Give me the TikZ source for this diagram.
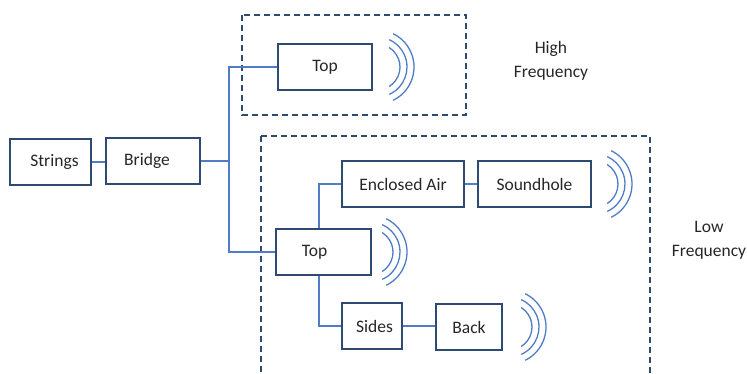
\documentclass[tikz,border=0pt]{standalone}
\usepackage{fontspec}
\setmainfont{Carlito}
\usetikzlibrary{calc}
\definecolor{boxc}{HTML}{2F4A72}
\definecolor{linec}{HTML}{4F7CC4}
\definecolor{dashc}{HTML}{2E4A6E}
\definecolor{txtc}{HTML}{262626}
\tikzset{
  blk/.style={draw=boxc, line width=1.3pt, minimum height=46pt, inner sep=0pt, text=txtc, font=\fontsize{17.5}{21}\selectfont},
  conn/.style={draw=linec, line width=1.3pt},
  grp/.style={draw=dashc, line width=1.3pt, dash pattern=on 6pt off 4pt},
  wavec/.style={draw=linec, line width=1.3pt},
  lbl/.style={text=txtc, align=center, font=\fontsize{17.5}{24}\selectfont}
}
\begin{document}
\begin{tikzpicture}[x=1pt,y=-1pt]
\useasboundingbox (0,0) rectangle (747,373);
\clip (0,0) rectangle (747,373);
% groups
\draw[grp] (242,15) rectangle (466,115);
\draw[grp] (261,136) rectangle (650,395);
% blocks
\node[blk, minimum width=81pt] (strings) at (50.5,162) {\kern8pt Strings};
\node[blk, minimum width=94pt] (bridge) at (153,161) {Bridge\kern12pt};
\node[blk, minimum width=94pt] (topH) at (325,67) {Top};
\node[blk, minimum width=122pt] (encl) at (403,184) {Enclosed Air};
\node[blk, minimum width=113pt] (sound) at (534.5,184) {Soundhole};
\node[blk, minimum width=95pt] (topL) at (323.5,252) {Top\kern18pt};
\node[blk, minimum width=60pt] (sides) at (372,326) {\kern5pt Sides};
\node[blk, minimum width=66pt] (back) at (469,327) {Back};
% labels
\node[lbl] (hf) at (551,61) {High\\Frequency};
\node[lbl] (lf) at (709,240.5) {Low\\Frequency};
% connectors
\coordinate (j) at (229,159);
\coordinate (k) at (319,252);
\draw[conn] (strings.east) -- (strings.east -| bridge.west);
\draw[conn] (bridge.east) -- (bridge.east -| j);
\draw[conn] (topH.west) -| (j) |- (topL.west);
\draw[conn] (k |- topL.north) |- (encl.west);
\draw[conn] (k |- topL.south) |- (sides.west);
\draw[conn] (encl.east) -- (sound.west);
\draw[conn] (sides.east) -- (sides.east -| back.west);
% sound waves
\coordinate (w1) at (377,67);
\coordinate (w2) at (595,184);
\coordinate (w3) at (370,252);
\coordinate (w4) at (509,327);
\foreach \c in {w1,w2,w3,w4}{
  \draw[wavec] ($(\c)+(-58:23pt)$) arc[start angle=-58, end angle=58, radius=23pt];
  \draw[wavec] ($(\c)+(-66:30pt)$) arc[start angle=-66, end angle=66, radius=30pt];
  \draw[wavec] ($(\c)+(-64:37pt)$) arc[start angle=-64, end angle=64, radius=37pt];
}
\end{tikzpicture}
\end{document}
